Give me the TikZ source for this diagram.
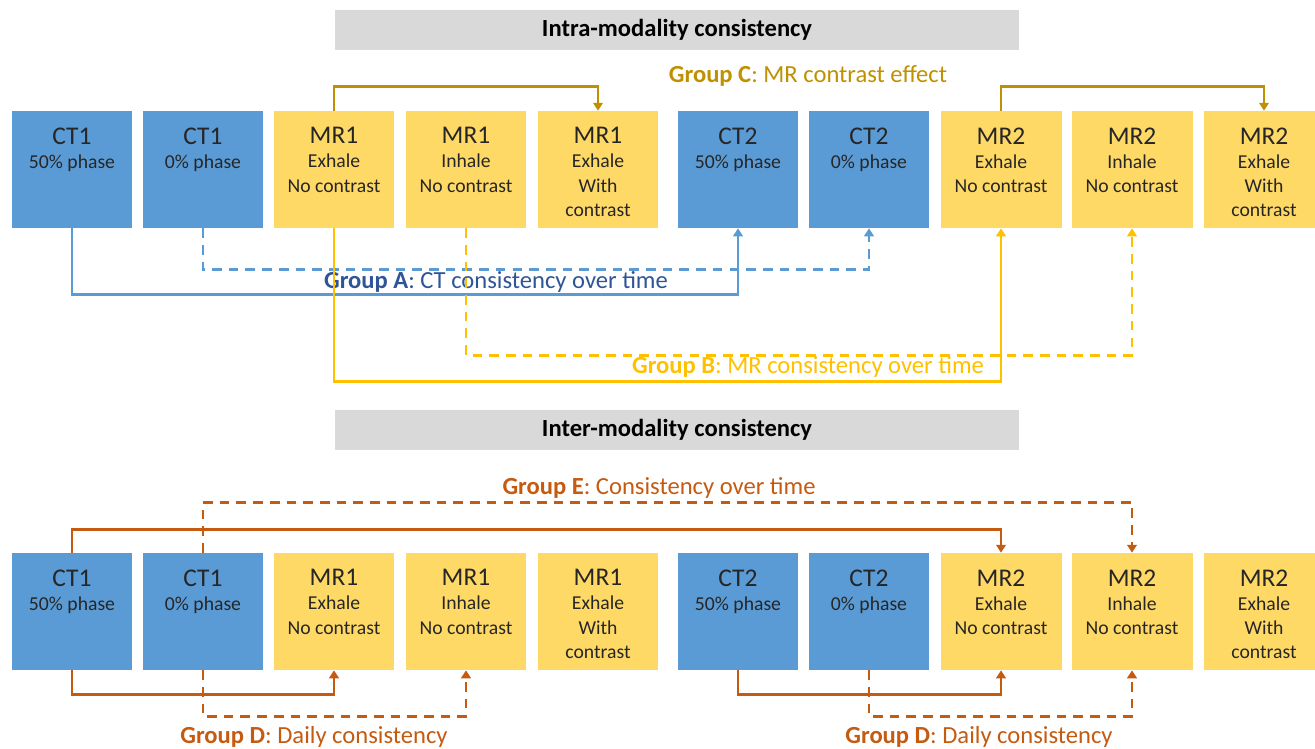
\documentclass[tikz,border=0pt]{standalone}
\usepackage{fontspec}
\setmainfont{Carlito}
\usepackage{tikz}
\usetikzlibrary{positioning}
\usetikzlibrary{arrows.meta}

\definecolor{ctblue}{HTML}{5B9BD5}
\definecolor{mryellow}{HTML}{FFD966}
\definecolor{grpA}{HTML}{2F5597}
\definecolor{grpB}{HTML}{FFC000}
\definecolor{grpC}{HTML}{BF9000}
\definecolor{grpD}{HTML}{C55A11}
\definecolor{hdrgray}{HTML}{D9D9D9}

\tikzset{
  scanbox/.style={minimum width=2.42cm, minimum height=2.34cm, inner sep=0pt},
  ct/.style={scanbox, fill=ctblue},
  mr/.style={scanbox, fill=mryellow},
  scantext/.style={inner sep=0pt, align=center, text=black!85,
    font=\fontsize{11.2}{13.7}\selectfont},
  header/.style={fill=hdrgray, minimum width=13.68cm, minimum height=0.8cm,
    font=\bfseries\fontsize{14}{16}\selectfont},
  grplabel/.style={inner sep=1pt, font=\fontsize{14}{16}\selectfont},
  link/.style={line width=1.5pt, -{Triangle[width=5.5pt,length=4.5pt]}},
  dashlink/.style={link, dash pattern=on 5.5pt off 4pt},
}

\begin{document}
\begin{tikzpicture}[x=0.02cm, y=-0.02cm]
\useasboundingbox (0,0) rectangle (1315,748);

% section headers
\node[header] (intra) at (677,30) {Intra-modality consistency};
\node[header] (inter) at (677,430) {Inter-modality consistency};

% scans, upper and lower rows
\foreach \idx/\xx/\kind/\ttl/\sub in {1/72/ct/CT1/{50\% phase},
    2/203/ct/CT1/{0\% phase},
    3/334/mr/MR1/{Exhale\\No contrast},
    4/466/mr/MR1/{Inhale\\No contrast},
    5/598/mr/MR1/{Exhale\\With\\contrast},
    6/738/ct/CT2/{50\% phase},
    7/869/ct/CT2/{0\% phase},
    8/1001/mr/MR2/{Exhale\\No contrast},
    9/1132/mr/MR2/{Inhale\\No contrast},
    10/1264/mr/MR2/{Exhale\\With\\contrast}} {
    \node[\kind] (u\idx) at (\xx,169.5) {};
    \node[scantext, below=0.33cm of u\idx.north] (ut\idx)
        {{\fontsize{14.5}{15}\selectfont \ttl}\\ \sub};
    \node[\kind] (l\idx) at (\xx,611.5) {};
    \node[scantext, below=0.33cm of l\idx.north] (lt\idx)
        {{\fontsize{14.5}{15}\selectfont \ttl}\\ \sub};
}

% Group C
\draw[link, grpC] (u3.north) -- ++(0,-24) -| (u5.north);
\draw[link, grpC] (u8.north) -- ++(0,-24) -| (u10.north);
\node[grplabel, text=grpC] (labC) at (808,76) {\textbf{Group C}: MR contrast effect};

% Group A
\node[grplabel, text=grpA] (labA) at (496,282) {\textbf{Group A}: CT consistency over time};
\draw[link, ctblue] (u1.south) -- ++(0,66) -| (u6.south);
\draw[dashlink, ctblue] (u2.south) -- ++(0,41) -| (u7.south);

% Group B
\node[grplabel, text=grpB] (labB) at (808,367) {\textbf{Group B}: MR consistency over time};
\draw[link, grpB] (u3.south) -- ++(0,153) -| (u8.south);
\draw[dashlink, grpB] (u4.south) -- ++(0,127) -| (u9.south);

% Group E
\node[grplabel, text=grpD] (labE) at (659,488) {\textbf{Group E}: Consistency over time};
\draw[link, grpD] (l1.north) -- ++(0,-23) -| (l8.north);
\draw[dashlink, grpD] (l2.north) -- ++(0,-50) -| (l9.north);

% Group D
\draw[link, grpD] (l1.south) -- ++(0,24) -| (l3.south);
\draw[dashlink, grpD] (l2.south) -- ++(0,46) -| (l4.south);
\draw[link, grpD] (l6.south) -- ++(0,24) -| (l8.south);
\draw[dashlink, grpD] (l7.south) -- ++(0,46) -| (l9.south);
\node[grplabel, text=grpD] (labD1) at (314,737) {\textbf{Group D}: Daily consistency};
\node[grplabel, text=grpD] (labD2) at (979,737) {\textbf{Group D}: Daily consistency};
\end{tikzpicture}
\end{document}
